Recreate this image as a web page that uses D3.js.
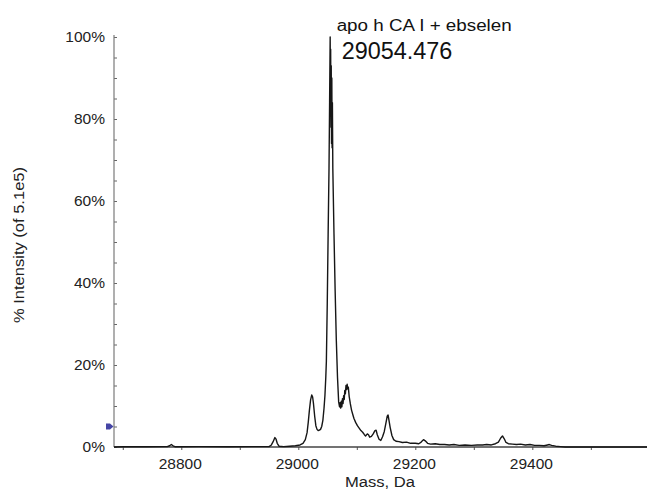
<!DOCTYPE html>
<html>
<head>
<meta charset="utf-8">
<script src="https://cdn.jsdelivr.net/npm/d3@7"></script>
<style>
  html, body { margin: 0; padding: 0; background: #fff; }
  svg { display: block; font-family: "Liberation Sans", Arial, Helvetica, sans-serif; }
</style>
</head>
<body>
<svg id="chart" width="647" height="489"></svg>
<script>
// Deconvoluted mass spectrum: mass (Da) and relative intensity (%)
const massDa = [
  28685, 28700, 28740, 28776, 28780, 28783, 28786, 28790, 28830, 28880, 28920,
  28950, 28954, 28957, 28960, 28962, 28964, 28967, 28975, 28985, 28995,
  29003, 29008, 29012, 29015, 29017, 29019, 29021, 29023, 29024.5, 29026,
  29028, 29030, 29032, 29034, 29036, 29038, 29040, 29042, 29044, 29045.5,
  29047, 29048, 29049.5, 29051, 29052.5, 29053.5, 29054.476,
  29054.9, 29055.3, 29055.8, 29056.3, 29056.8, 29057.3, 29057.8, 29058.3,
  29059, 29061, 29063, 29065, 29067, 29069, 29070.5,
  29071.5, 29072.5, 29073.5, 29074.5, 29075.5, 29076.5, 29077.5, 29078.5,
  29079.5, 29080.5, 29081.5, 29082.5, 29083.5, 29084.5, 29085.5, 29087,
  29089, 29091, 29093, 29095, 29098, 29101, 29104, 29107, 29110, 29113,
  29115, 29118, 29120, 29122, 29125, 29128, 29131, 29133, 29135, 29138,
  29141, 29144, 29147, 29150, 29152, 29153.5, 29155, 29157, 29160, 29163,
  29167, 29172, 29178, 29185, 29192, 29200, 29206, 29210, 29214, 29217,
  29221, 29226, 29234, 29242, 29250, 29258, 29266, 29275, 29285, 29296,
  29306, 29315, 29322, 29330, 29337, 29342, 29346, 29349, 29352, 29355,
  29359, 29366, 29373, 29380, 29388, 29396, 29404, 29412, 29420, 29426,
  29429, 29433, 29440, 29448, 29456, 29596
];
const intensityPct = [
  0, 0.05, 0.05, 0.1, 0.3, 0.6, 0.3, 0.05, 0.1, 0.05, 0.1,
  0.1, 0.5, 1.3, 2.3, 1.9, 0.9, 0.2, 0.1, 0.2, 0.3,
  0.5, 0.9, 1.8, 3.5, 6.0, 9.0, 11.5, 12.7, 12.2, 10.5,
  7.5, 5.2, 4.3, 4.0, 4.1, 4.3, 5.0, 6.5, 9.5, 12.5,
  17, 21, 35, 52, 68, 84, 100,
  86, 97, 78, 93, 74, 90, 73, 84,
  68, 52, 38, 26, 17, 11, 9.8,
  10.8, 9.5, 11.2, 9.8, 11.8, 10.6, 12.5, 11.6,
  13.8, 13.0, 15.0, 14.0, 15.3, 14.2, 14.6, 12.3,
  10.5, 9.0, 8.0, 7.0, 6.0, 5.2, 4.6, 4.0, 3.6, 3.0,
  2.7, 3.2, 3.0, 2.4, 2.6, 3.2, 4.0, 4.1, 3.0, 1.9,
  1.6, 2.5, 3.8, 6.0, 7.5, 7.8, 6.5, 4.8, 2.8, 1.8,
  1.4, 1.3, 1.1, 1.2, 0.9, 0.9, 0.8, 1.2, 1.8, 1.5,
  0.9, 0.7, 0.8, 0.6, 0.6, 0.5, 0.6, 0.4, 0.5, 0.4,
  0.5, 0.5, 0.6, 0.5, 0.8, 1.2, 2.2, 2.7, 2.0, 1.1,
  0.8, 0.7, 0.6, 0.7, 0.5, 0.6, 0.4, 0.4, 0.3, 0.5,
  0.6, 0.4, 0.2, 0.1, 0, 0
];

const yMajorTicks = [0, 20, 40, 60, 80, 100];
const xLabelTicks = [28800, 29000, 29200, 29400];
const sampleName = "apo h CA I + ebselen";
const peakMass = 29054.476;
const peakLabel = "29054.476";
const thresholdPct = 5;
const yTitle = "% Intensity (of 5.1e5)";
const xTitle = "Mass, Da";

const svg = d3.select("#chart");

const x = d3.scaleLinear().domain([28685, 29596]).range([114, 647]);
const y = d3.scaleLinear().domain([0, 100]).range([447, 37]);

// Y axis: minor ticks every 5 %, labels every 20 %
const yAxis = d3.axisLeft(y)
  .tickValues(d3.range(0, 101, 5))
  .tickSize(-3)
  .tickPadding(9)
  .tickFormat(d => yMajorTicks.includes(d) ? d + "%" : "");
const gy = svg.append("g").attr("transform", `translate(${x.range()[0]},0)`).call(yAxis);
gy.select(".domain").remove();
gy.selectAll(".tick line").attr("stroke", "#666");
gy.selectAll(".tick text")
  .attr("fill", "#222")
  .style("font-size", "15.5px");
svg.append("line")
  .attr("x1", x.range()[0]).attr("x2", x.range()[0])
  .attr("y1", y(100) - 2).attr("y2", y(0))
  .attr("stroke", "#7a7a7a").attr("stroke-width", 1.2);

// X axis: ticks every 100 Da, labels every 200 Da
const xAxis = d3.axisBottom(x)
  .tickValues(d3.range(28700, 29600, 100))
  .tickSize(3)
  .tickPadding(7.5)
  .tickFormat(d => xLabelTicks.includes(d) ? String(d) : "");
const gx = svg.append("g").attr("transform", `translate(0,${y(0)})`).call(xAxis);
gx.select(".domain").remove();
gx.selectAll(".tick line").attr("stroke", "#555");
gx.selectAll(".tick text")
  .attr("fill", "#222")
  .attr("dx", -1.5)
  .style("font-size", "15.5px");
svg.append("line")
  .attr("x1", x.range()[0]).attr("x2", x.range()[1])
  .attr("y1", y(0)).attr("y2", y(0))
  .attr("stroke", "#444").attr("stroke-width", 1.5);

// Threshold marker on the intensity axis
const my = y(thresholdPct), mx = x.range()[0];
svg.append("path")
  .attr("d", `M${mx - 8},${my - 3} L${mx - 4},${my - 3} L${mx - 0.5},${my} L${mx - 4},${my + 3} L${mx - 8},${my + 3} Z`)
  .attr("fill", "#4545a5");

// Spectrum trace
const pts = massDa.map((m, i) => [m, intensityPct[i]]);
svg.append("path")
  .datum(pts)
  .attr("fill", "none")
  .attr("stroke", "#161616")
  .attr("stroke-width", 1.4)
  .attr("stroke-linejoin", "round")
  .attr("d", d3.line().x(d => x(d[0])).y(d => y(d[1])));

// Peak annotation
const px = x(peakMass);
svg.append("text")
  .attr("x", px + 6.5).attr("y", 30.7)
  .attr("fill", "#111")
  .attr("textLength", 175).attr("lengthAdjust", "spacingAndGlyphs")
  .style("font-size", "16px")
  .text(sampleName);
svg.append("text")
  .attr("x", px + 11.5).attr("y", 58.5)
  .attr("fill", "#111")
  .style("font-size", "23.4px")
  .text(peakLabel);

// Axis titles
svg.append("text")
  .attr("transform", "translate(24,245) rotate(-90)")
  .attr("text-anchor", "middle")
  .attr("fill", "#222")
  .attr("textLength", 156).attr("lengthAdjust", "spacingAndGlyphs")
  .style("font-size", "15px")
  .text(yTitle);
svg.append("text")
  .attr("x", 380).attr("y", 487)
  .attr("text-anchor", "middle")
  .attr("fill", "#222")
  .attr("textLength", 70).attr("lengthAdjust", "spacingAndGlyphs")
  .style("font-size", "15.5px")
  .text(xTitle);
</script>
</body>
</html>
